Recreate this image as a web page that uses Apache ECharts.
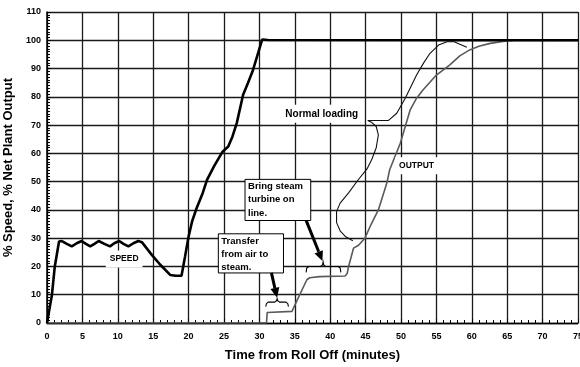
<!DOCTYPE html>
<html><head><meta charset="utf-8">
<script src="https://cdn.jsdelivr.net/npm/echarts@6/dist/echarts.min.js"></script>
<style>html,body{margin:0;padding:0;background:#fff}#c{width:580px;height:367px}</style>
</head><body><div id="c"></div>
<script>
// ---- data ----
const xTicks = [0,5,10,15,20,25,30,35,40,45,50,55,60,65,70,75];
const yTicks = [0,10,20,30,40,50,60,70,80,90,100,110];

const speedX = [0,0.35,0.7,1.1,1.7,2.1,2.8,3.5,4.2,4.9,5.5,6.1,6.7,7.3,8.1,8.9,9.5,10.2,10.8,11.5,12.2,12.9,13.4,14.8,16.0,17.4,18.2,19.0,19.5,20.0,20.5,21.1,22.0,22.6,23.6,24.8,25.6,26.2,26.8,27.7,28.4,29.1,30.4,31.2,75];
const speedY = [0,5,10,20,28.8,29,28,27.1,28.2,29,28,27.1,28,29,28,27.1,28.2,29,28,27.1,28.2,29,28.6,24.1,20.6,17,16.7,16.7,23.5,30.6,36,40.4,46,50.6,55.5,60.6,62.4,66,70.7,80.7,85,89.5,100.3,100.1,100];

const outputX = [0,31.0,31.1,34.6,35.5,36.7,37.1,38.5,42.1,42.4,42.6,43.3,44.0,44.9,45.8,46.8,48.0,48.4,49.9,51.3,52.2,53.1,55.0,56.9,58.3,59.7,61.0,62.6,64.4,66.0,75];
const outputY = [0,0,3.7,4.1,9,15.3,16.0,16.4,16.6,17.5,20,26.5,27.5,30,35,40,49.5,54.2,63.6,75.4,79.5,82.4,87.7,91.3,94.5,96.6,97.9,98.9,99.6,100,100];

const loadingX = [43.2,42.2,41.4,40.9,40.9,41.4,42.6,43.9,45.2,45.9,46.5,46.8,46.5,45.9,45.3,48.2,49.4,50.6,52.2,53.2,54.1,55.3,56.5,57.5,59.3];
const loadingY = [29.1,30.5,32.6,35.5,39.4,42.4,46,50.5,54.5,58,62,66.5,69.5,70.9,71.6,71.6,74.2,79.5,87.7,92,95.4,98.3,99.5,99.5,97.5];

const seriesNames = ['SPEED','OUTPUT','Normal loading'];
const xTitle = 'Time from Roll Off (minutes)';
const yTitle = '% Speed, % Net Plant Output';

// annotation anchors in data units
const labelSpeed = [10.9, 22.6];
const labelOutput = [52.2, 55.6];
const labelLoading = [38.8, 74.0];
const boxSteam = {text:'Bring steam\nturbine on\nline.', tl:[27.97,50.8], br:[37.25,36.25]};
const boxTransfer = {text:'Transfer\nfrom air to\nsteam.', tl:[24.2,31.55], br:[33.4,17.7]};
const arrowSteam = [[36.6,36.3],[38.9,21.9]];
const arrowTransfer = [[31.7,17.7],[32.5,8.9]];
const braceSteam = {x1:36.6, x2:41.5, mid:39.0, top:20.0, end:17.9, peak:21.6};
const braceTransfer = {x1:30.9, x2:34.1, mid:32.5, top:7.4, end:5.8, peak:8.6};

const zip = (a,b) => a.map((v,i)=>[v,b[i]]);

const chart = echarts.init(document.getElementById('c'), null, {renderer:'canvas'});
const fontFam = 'Liberation Sans, Arial, sans-serif';
chart.setOption({
  animation:false,
  backgroundColor:'#fff',
  grid:{left:47, right:2, top:12, bottom:44, containLabel:false, outerBoundsMode:'none'},
  xAxis:{type:'value', min:xTicks[0], max:xTicks[xTicks.length-1], interval:5,
    name:xTitle, nameLocation:'middle', nameGap:26,
    nameTextStyle:{fontFamily:fontFam, fontWeight:'bold', fontSize:13, color:'#000'},
    axisLine:{show:true, onZero:false, lineStyle:{color:'#000', width:1.3}},
    axisTick:{show:true, inside:true, length:4, lineStyle:{color:'#000'}},
    minorTick:{show:true, splitNumber:5, length:3, lineStyle:{color:'#000'}},
    axisLabel:{fontFamily:fontFam, fontWeight:'bold', fontSize:9, color:'#000', margin:9},
    splitLine:{show:true, lineStyle:{color:'#1a1a1a', width:1.3}}},
  yAxis:{type:'value', min:yTicks[0], max:yTicks[yTicks.length-1], interval:10,
    name:yTitle, nameLocation:'middle', nameGap:29,
    nameTextStyle:{fontFamily:fontFam, fontWeight:'bold', fontSize:13, color:'#000'},
    axisLine:{show:true, onZero:false, lineStyle:{color:'#000', width:1.5}},
    axisTick:{show:true, inside:true, length:4, lineStyle:{color:'#000'}},
    minorTick:{show:true, splitNumber:10, length:3, lineStyle:{color:'#000'}},
    axisLabel:{fontFamily:fontFam, fontWeight:'bold', fontSize:9, color:'#000', margin:6},
    splitLine:{show:true, lineStyle:{color:'#1a1a1a', width:1.3}}},
  series:[
    {name:seriesNames[0], type:'line', data:zip(speedX,speedY), showSymbol:false, symbol:'none',
      lineStyle:{color:'#000', width:2.6}, z:5},
    {name:seriesNames[1], type:'line', data:zip(outputX,outputY), showSymbol:false, symbol:'none',
      lineStyle:{color:'#5a5a5a', width:1.6}, z:4},
    {name:seriesNames[2], type:'line', data:zip(loadingX,loadingY), showSymbol:false, symbol:'none',
      lineStyle:{color:'#111', width:1.1}, z:4}
  ]
});

const P = p => chart.convertToPixel({gridIndex:0}, p);
const g = [];
function label(text, pos, size){
  const p = P(pos);
  g.push({type:'text', z:20, x:p[0], y:p[1], style:{text:text, fontFamily:fontFam, fontWeight:'bold', fontSize:size,
    fill:'#000', align:'center', verticalAlign:'middle', backgroundColor:'#fff', padding:[4,4]}});
}
label(seriesNames[0], labelSpeed, 8.5);
label(seriesNames[1], labelOutput, 8.5);
label(seriesNames[2], labelLoading, 10);

function box(b){
  const a = P(b.tl), c = P(b.br);
  g.push({type:'rect', z:20, shape:{x:a[0], y:a[1], width:c[0]-a[0], height:c[1]-a[1]},
    style:{fill:'#fff', stroke:'#000', lineWidth:1}});
  g.push({type:'text', z:21, x:a[0]+3, y:a[1]+0.5, style:{text:b.text, fontFamily:fontFam, fontWeight:'bold',
    fontSize:9.5, lineHeight:13.3, fill:'#000', align:'left', verticalAlign:'top'}});
}
box(boxSteam); box(boxTransfer);

function arrow(ar){
  const s = P(ar[0]), e = P(ar[1]);
  const dx = e[0]-s[0], dy = e[1]-s[1], L = Math.hypot(dx,dy);
  const ux = dx/L, uy = dy/L, nx = -uy, ny = ux;
  const bx = e[0]-ux*10, by = e[1]-uy*10;
  g.push({type:'line', z:20, shape:{x1:s[0], y1:s[1], x2:bx, y2:by}, style:{stroke:'#000', lineWidth:3}});
  g.push({type:'polygon', z:20, shape:{points:[[e[0],e[1]],[bx+nx*4.5,by+ny*4.5],[bx-nx*4.5,by-ny*4.5]]},
    style:{fill:'#000'}});
}
arrow(arrowSteam); arrow(arrowTransfer);

function brace(b){
  const l = P([b.x1,b.top]), r = P([b.x2,b.top]), m = P([b.mid,b.peak]), le = P([b.x1,b.end]);
  const yt = l[1], ye = le[1];
  g.push({type:'polyline', z:20, shape:{points:[
    [l[0],ye],[l[0]+0.6,yt+1.6],[l[0]+2.5,yt],[m[0]-2.5,yt],[m[0]-0.6,yt-1.5],[m[0],m[1]],
    [m[0]+0.6,yt-1.5],[m[0]+2.5,yt],[r[0]-2.5,yt],[r[0]-0.6,yt+1.6],[r[0],ye]]},
    style:{stroke:'#000', lineWidth:1.1, fill:null}});
}
brace(braceSteam); brace(braceTransfer);

chart.setOption({graphic:{elements:g}});
</script></body></html>
